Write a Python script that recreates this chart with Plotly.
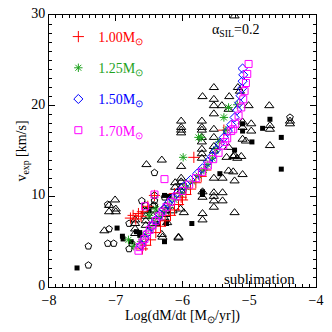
import plotly.graph_objects as go

# ---------------- observed sample ----------------
tri_x = [-5.22, -5.53, -5.70, -5.30, -5.17, -5.14, -5.53, -5.53, -5.41, -5.31, -5.53, -5.01, -4.70,
         -6.02, -6.02, -6.02, -6.02, -5.71, -5.71, -5.71, -5.53, -5.10, -5.10, -4.97, -4.97, -4.69, -4.69,
         -4.39, -4.39, -4.69, -5.05, -5.10, -5.31, -5.22, -5.53, -5.53, -5.53, -5.71, -5.71, -5.71, -5.71,
         -5.71, -5.34, -5.24, -5.18, -5.12, -6.02, -6.54, -6.31,
         -5.31, -5.24, -5.10, -5.22, -5.53, -5.40, -5.53, -5.53, -5.53, -5.40, -5.40, -5.53, -5.70, -5.70,
         -6.02, -6.02, -6.02, -6.02, -6.11, -6.11, -5.22, -5.70, -5.70, -6.06,
         -7.01, -7.00, -7.00, -7.10, -7.10, -7.17, -6.71, -6.71, -6.71, -6.71, -6.55, -6.55, -6.55, -6.55,
         -6.44, -6.44, -6.44, -6.44, -6.31, -6.25, -6.25, -6.25, -6.27, -6.15, -6.03, -5.98, -6.23, -6.06,
         -6.30]
tri_v = [29.9, 22.0, 21.0, 21.0, 22.0, 21.6, 20.7, 20.0, 20.0, 19.6, 19.1, 20.0, 20.0,
         18.3, 17.6, 17.3, 17.0, 18.3, 17.6, 17.3, 17.4, 18.2, 17.6, 18.0, 17.2, 17.8, 17.4,
         18.3, 18.0, 15.6, 16.1, 16.3, 15.4, 14.5, 16.5, 15.5, 15.0, 16.5, 16.0, 15.2, 14.7,
         14.2, 14.3, 14.4, 14.2, 14.4, 13.3, 13.5, 14.0,
         12.8, 12.7, 12.4, 11.7, 12.0, 12.0, 10.4, 10.0, 9.5, 10.4, 9.5, 8.8, 10.5, 9.9,
         12.0, 11.6, 11.0, 10.6, 11.5, 11.0, 8.2, 8.1, 7.4, 5.4,
         9.6, 8.6, 8.3, 9.0, 8.3, 6.2, 6.4, 5.9, 7.4, 7.0, 8.4, 7.8, 7.3, 6.8,
         9.0, 8.5, 7.8, 7.0, 5.8, 8.9, 8.4, 8.0, 7.6, 8.4, 8.6, 8.2, 7.1, 5.5,
         5.5]

circ_x = [-7.10, -7.41, -7.41, -7.12, -7.03, -7.12, -6.61, -6.80, -6.76, -6.42, -6.42, -6.42, -6.42,
          -6.27, -6.55, -6.80, -4.39]
circ_v = [6.4, 4.5, 2.4, 4.8, 4.8, 9.1, 9.5, 4.2, 4.8, 10.1, 9.5, 9.0, 12.6,
          9.9, 9.0, 7.0, 18.7]

sq_x = [-7.58, -6.98, -6.89, -6.90, -6.77, -6.69, -6.64, -6.64, -6.50, -6.27, -6.27, -6.24, -6.37,
        -5.86, -5.70, -5.70, -5.44, -4.52, -5.22, -4.96, -4.52, -4.80, -4.69, -5.10, -5.10, -6.20]
sq_v = [2.1, 6.5, 5.3, 5.6, 5.0, 6.1, 6.0, 5.7, 8.4, 10.1, 5.0, 7.0, 7.0,
        7.0, 10.2, 10.5, 12.5, 13.0, 15.1, 16.0, 16.5, 17.5, 18.5, 18.0, 17.2, 10.0]

# ---------------- model sequences ----------------
m100_x = [-6.78, -6.74, -6.70, -6.66, -6.62, -6.60, -6.52, -6.42, -6.60, -6.55, -6.48, -6.40, -6.33,
          -6.26, -6.18, -6.12, -6.06, -6.00, -5.95, -5.88, -5.80, -5.72, -5.65, -5.83, -5.38, -6.12, -6.02]
m100_v = [7.6, 7.9, 7.5, 8.1, 7.8, 8.3, 8.9, 10.1, 4.2, 4.6, 5.2, 6.0, 6.7,
          7.3, 7.9, 8.5, 9.1, 9.6, 10.2, 10.8, 11.5, 12.2, 12.9, 14.3, 17.3, 10.3, 9.9]

m125_x = [-6.73, -6.81, -6.62, -6.55, -6.48, -6.41, -6.34, -6.27, -6.20, -6.12, -6.03, -5.94, -5.85,
          -5.76, -5.68, -5.62, -5.55, -5.99, -5.72, -5.50, -5.45, -5.38, -5.35, -5.31, -5.18, -6.50, -6.40,
          -5.76]
m125_v = [4.5, 5.2, 5.0, 5.7, 6.4, 7.1, 7.8, 8.4, 9.0, 9.6, 10.3, 11.0, 11.6,
          12.3, 12.9, 13.5, 14.2, 14.3, 16.5, 15.2, 16.0, 18.7, 17.3, 19.8, 20.1, 7.9, 8.6,
          16.5]

m150_x = [-6.62, -6.57, -6.52, -6.46, -6.40, -6.34, -6.28, -6.22, -6.15, -6.07, -5.98, -5.88, -5.78,
          -5.70, -5.62, -5.56, -5.50, -5.44, -5.38, -5.32, -5.27, -5.22, -5.18, -5.15, -5.13, -5.11,
          -5.10, -5.09, -5.10]
m150_v = [4.6, 5.3, 6.0, 6.7, 7.4, 8.0, 8.6, 9.2, 9.8, 10.4, 11.1, 11.8, 12.5,
          13.1, 13.8, 14.4, 15.1, 15.8, 16.5, 17.2, 17.9, 18.7, 19.5, 20.3, 21.1, 21.9,
          22.7, 23.4, 24.1]

m170_x = [-6.66, -6.64, -6.60, -6.57, -6.53, -6.49, -6.45, -6.40, -6.35, -6.30, -6.24, -6.17, -6.09,
          -6.00, -5.90, -5.80, -5.71, -5.62, -5.54, -5.46, -5.39, -5.33, -5.27, -5.21, -5.16, -5.12,
          -5.09, -5.07, -5.05, -5.03, -5.01, -6.56, -6.42, -6.27, -5.24, -5.36]
m170_v = [4.0, 4.4, 4.9, 5.3, 5.8, 6.3, 6.8, 7.3, 7.8, 8.3, 8.8, 9.4, 10.0,
          10.6, 11.3, 12.0, 12.7, 13.4, 14.1, 14.8, 15.6, 16.4, 17.2, 18.0, 18.9, 19.8,
          20.7, 21.6, 22.5, 23.5, 24.6, 8.9, 10.2, 11.9, 17.4, 16.0]

x_ticks = [-8, -7, -6, -5, -4]
y_ticks = [0, 10, 20, 30]

FONT = "Liberation Serif"
RED, GREEN, BLUE, MAG = "#ff0000", "#1fa31f", "#0000ff", "#ff00ff"

fig = go.Figure()
# observations
fig.add_trace(go.Scatter(x=tri_x, y=tri_v, mode="markers", showlegend=False,
                         marker=dict(symbol="triangle-up-open", size=8, color="black",
                                     line=dict(width=1, color="black"))))
fig.add_trace(go.Scatter(x=circ_x, y=circ_v, mode="markers", showlegend=False,
                         marker=dict(symbol="pentagon-open", size=7, color="black",
                                     line=dict(width=1, color="black"))))
fig.add_trace(go.Scatter(x=sq_x, y=sq_v, mode="markers", showlegend=False,
                         marker=dict(symbol="square", size=5, color="black")))

models = [
    (m100_x, m100_v, "cross-thin-open", 8, RED, "1.00"),
    (m125_x, m125_v, "asterisk-open", 7, GREEN, "1.25"),
    (m150_x, m150_v, "diamond-open", 7, BLUE, "1.50"),
    (m170_x, m170_v, "square-open", 7, MAG, "1.70"),
]
for i, (xs, vs, sym, sz, col, lab) in enumerate(models):
    fig.add_trace(go.Scatter(
        x=xs, y=vs, mode="markers", legendgroup=lab,
        name=f'<span style="color:{col}">{lab}M<sub>⊙</sub></span>',
        marker=dict(symbol=sym, size=sz, color=col, line=dict(width=1, color=col))))

axis_common = dict(showline=True, linecolor="black", linewidth=1, mirror="allticks",
                   ticks="inside", ticklen=6, tickcolor="black", showgrid=False, zeroline=False,
                   automargin=False, ticklabeloverflow="allow",
                   tickfont=dict(family=FONT, size=14, color="black"))
fig.update_xaxes(range=[-8, -4], tickvals=x_ticks,
                 minor=dict(ticks="inside", ticklen=3, dtick=0.1, tickcolor="black"),
                 **axis_common)
fig.update_yaxes(range=[0, 30], tickvals=y_ticks, ticklabelshift=-2,
                 minor=dict(ticks="inside", ticklen=3, dtick=1, tickcolor="black"),
                 title=dict(text="v<sub>exp</sub> [km/s]", font=dict(family=FONT, size=14),
                            standoff=1),
                 **axis_common)

fig.add_annotation(text="Log(dM/dt [M<sub>⊙</sub>/yr])", xref="paper", yref="paper",
                   x=0.5, y=-0.11, xanchor="center", yanchor="middle",
                   showarrow=False, font=dict(family=FONT, size=14, color="black"))
fig.add_annotation(text="α<sub>SIL</sub>=0.2", xref="paper", yref="paper", x=0.70, y=0.944,
                   xanchor="center", yanchor="middle",
                   showarrow=False, font=dict(family=FONT, size=14, color="black"))
fig.add_annotation(text="sublimation", xref="paper", yref="paper", x=0.79, y=0.03,
                   xanchor="center", yanchor="middle",
                   showarrow=False, font=dict(family=FONT, size=15, color="black"))

fig.update_layout(
    width=324, height=324,
    margin=dict(l=41, r=16, t=7, b=45, autoexpand=False),
    plot_bgcolor="white", paper_bgcolor="white",
    font=dict(family=FONT, color="black"),
    legend=dict(x=0.035, y=0.978, xanchor="left", yanchor="top", bgcolor="rgba(0,0,0,0)",
                font=dict(family=FONT, size=14), tracegroupgap=10, traceorder="grouped",
                itemsizing="trace", itemwidth=30),
)

fig.write_html("out.html")
